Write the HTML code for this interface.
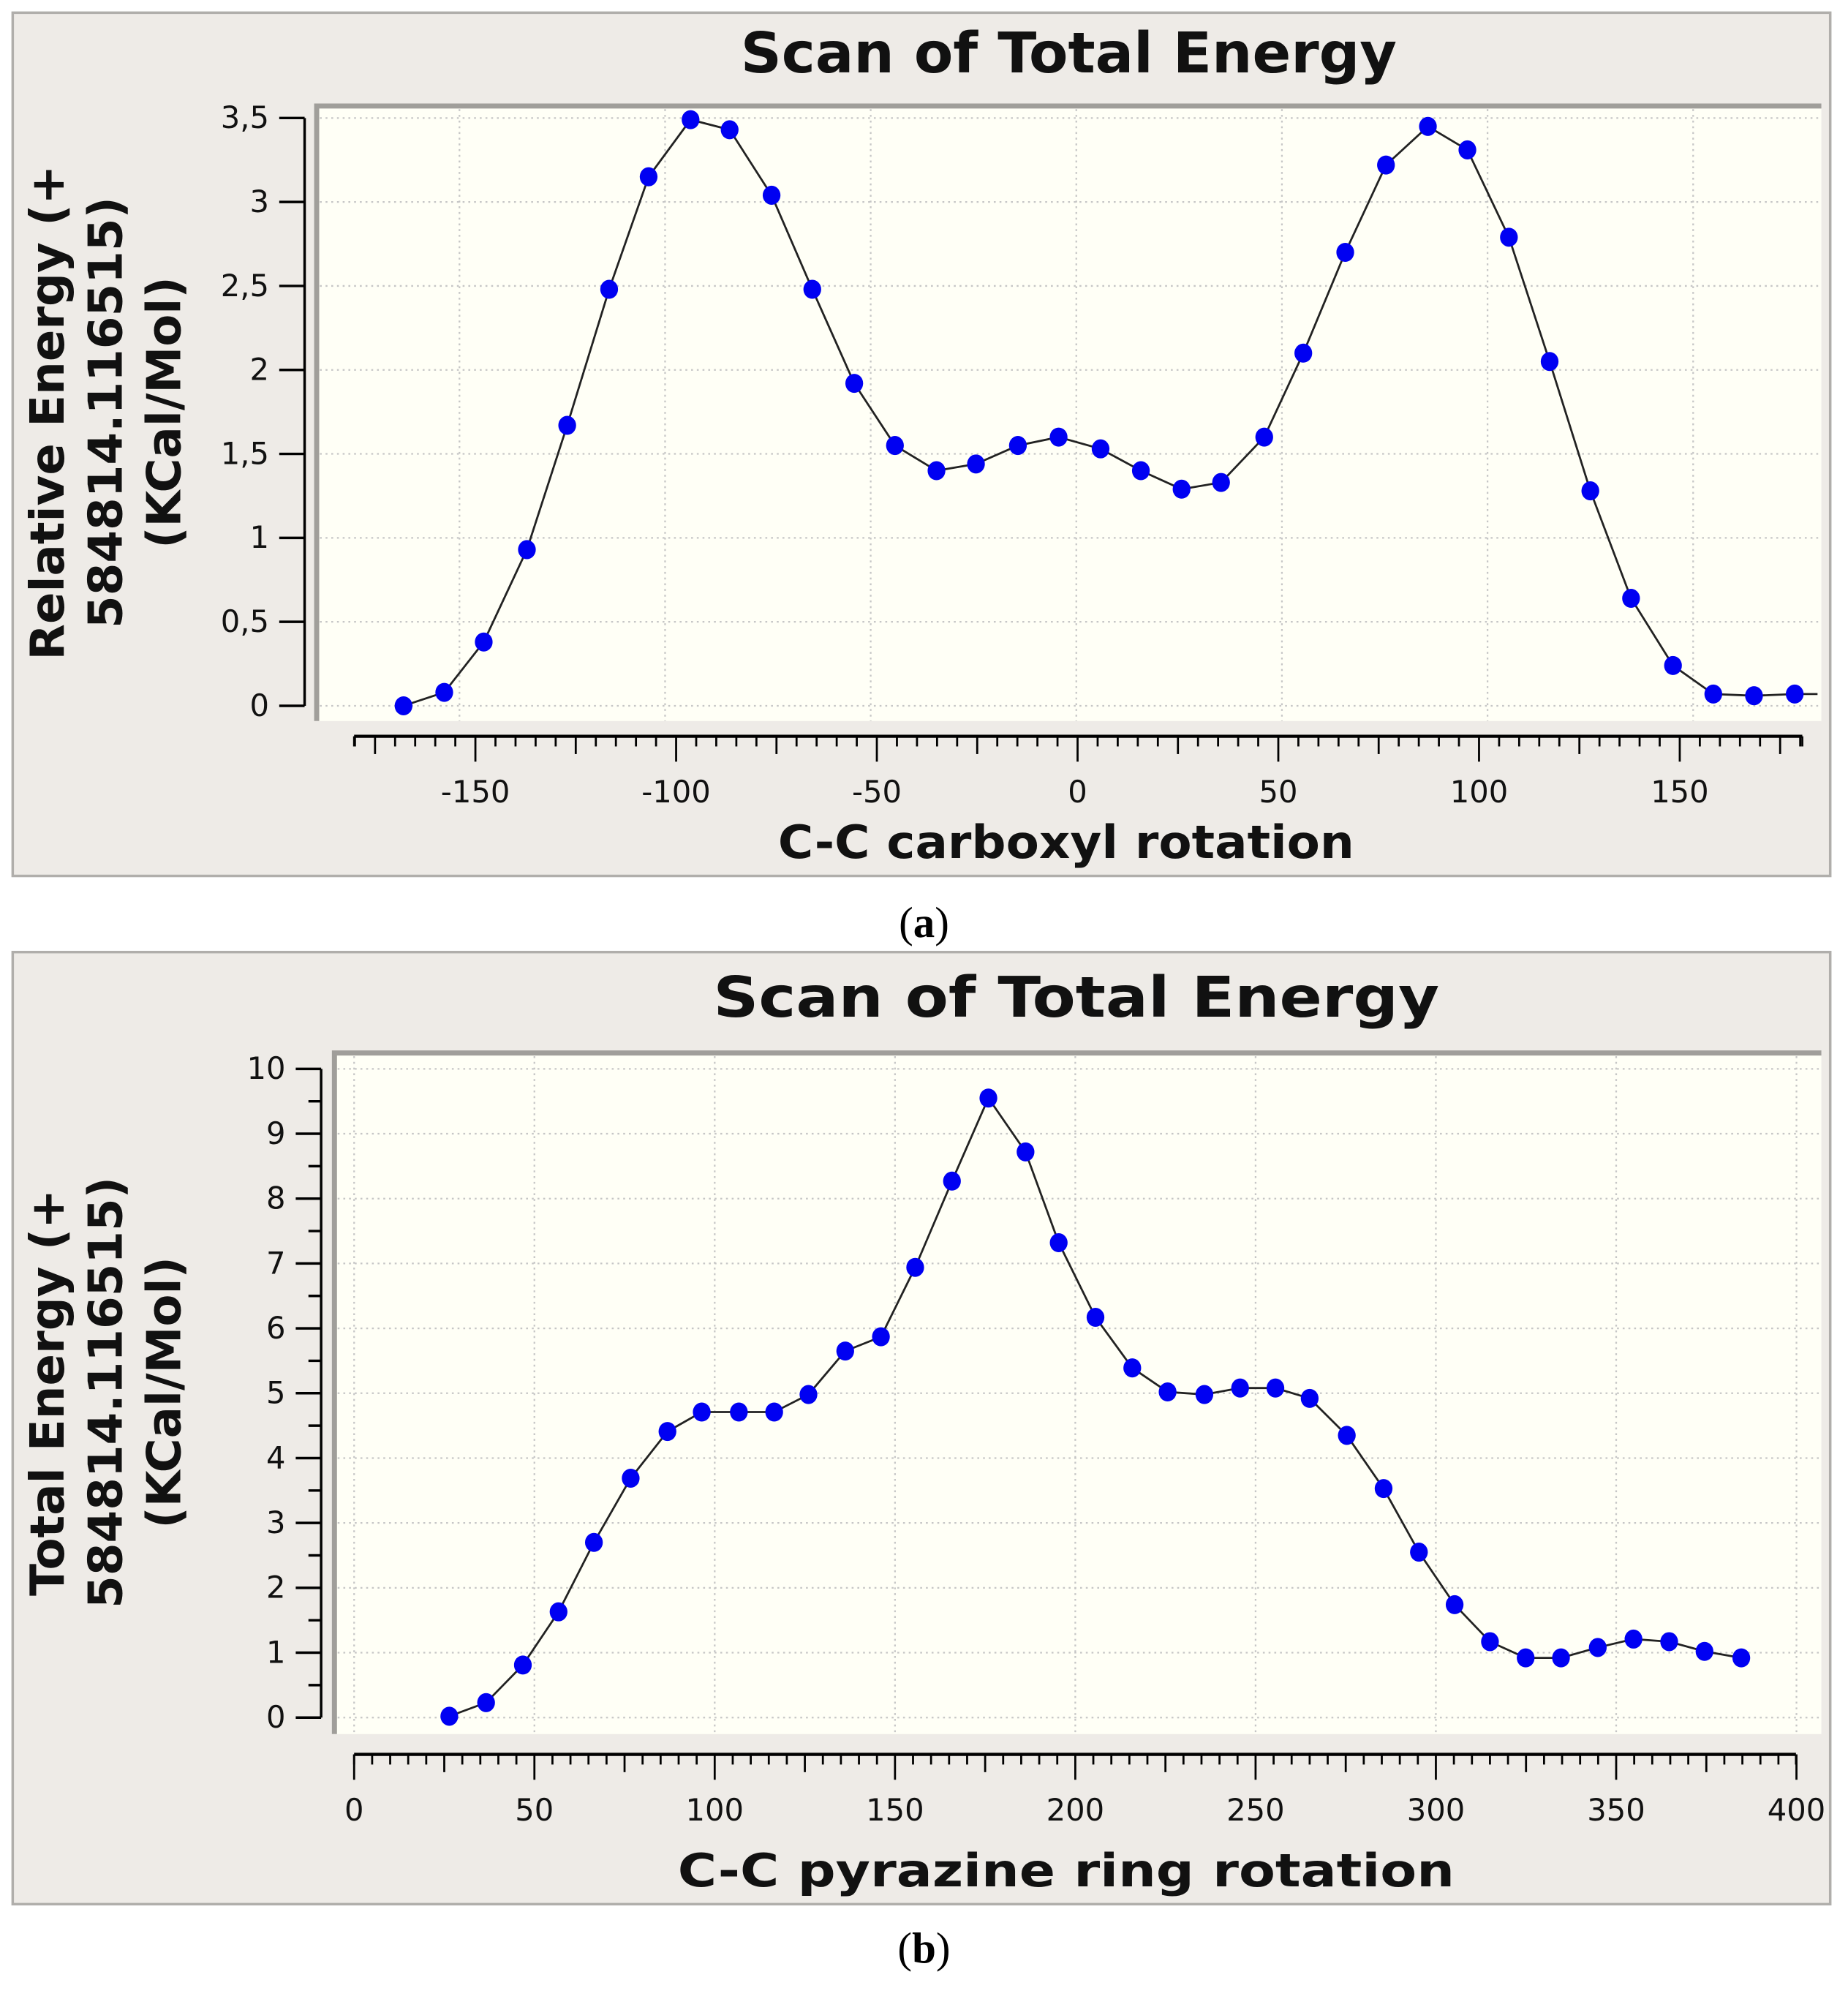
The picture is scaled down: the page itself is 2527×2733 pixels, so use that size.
<!DOCTYPE html>
<html><head><meta charset="utf-8"><style>
html,body{margin:0;padding:0;background:#fff;}
svg{display:block;}
</style></head><body>
<svg id="root" width="2527" height="2733" viewBox="0 0 1456 1574.7" xmlns="http://www.w3.org/2000/svg" font-family="'DejaVu Sans','Liberation Sans',sans-serif">
<g id="pa"></g>
<g id="pb"></g>
<text x="728" y="738" text-anchor="middle" font-family="'Liberation Serif',serif" font-size="34">(<tspan font-weight="bold">a</tspan>)</text>
<text x="728" y="1546" text-anchor="middle" font-family="'Liberation Serif',serif" font-size="34">(<tspan font-weight="bold">b</tspan>)</text>
</svg>
<script>
const aX=[-163.6,-153.7,-144.1,-133.6,-123.8,-113.6,-104,-93.8,-84.3,-74.1,-64.2,-54,-44.1,-34,-24.4,-14.2,-4.3,5.9,15.7,25.6,35.2,45.7,55.2,65.4,75.3,85.5,95.1,105.2,115.1,125,134.9,145.1,154.9,164.8,174.7];
const aY=[0,0.08,0.38,0.93,1.67,2.48,3.15,3.49,3.43,3.04,2.48,1.92,1.55,1.40,1.44,1.55,1.60,1.53,1.40,1.29,1.33,1.60,2.10,2.70,3.22,3.45,3.31,2.79,2.05,1.28,0.64,0.24,0.07,0.06,0.07];
const aYTicks=[0,0.5,1,1.5,2,2.5,3,3.5];
const aYLabels=["0","0,5","1","1,5","2","2,5","3","3,5"];
const aXTicks=[-150,-100,-50,0,50,100,150];
const bX=[26.4,36.6,46.8,56.7,66.5,76.7,86.9,96.4,106.7,116.5,126,136.2,146.1,155.6,165.8,175.9,186.2,195.4,205.6,215.8,225.6,235.8,245.7,255.5,265,275.3,285.5,295.3,305.2,315,324.9,334.7,344.9,354.8,364.7,374.5,384.7];
const bY=[0.02,0.23,0.81,1.63,2.70,3.69,4.41,4.71,4.71,4.71,4.98,5.65,5.87,6.94,8.27,9.55,8.72,7.32,6.17,5.39,5.02,4.98,5.08,5.08,4.92,4.35,3.53,2.55,1.74,1.17,0.92,0.92,1.08,1.21,1.17,1.02,0.92];
const bYTicks=[0,1,2,3,4,5,6,7,8,9,10];
const bYLabels=["0","1","2","3","4","5","6","7","8","9","10"];
const bXTicks=[0,50,100,150,200,250,300,350,400];

const NS="http://www.w3.org/2000/svg";
function mk(p,t,a){const e=document.createElementNS(NS,t);for(const k in a)e.setAttribute(k,a[k]);p.appendChild(e);return e;}

function panel(g,cfg){
  const sx=v=>cfg.x0px+v*cfg.xs, sy=v=>cfg.y0px-v*cfg.ys;
  const ax_=v=>cfg.ax0px+v*cfg.axs;
  let e=mk(g,'rect',{x:10,y:cfg.fy,width:1432,height:cfg.fh,fill:'#eeebe7',stroke:'#b0aeab','stroke-width':2});
  
  e=mk(g,'text',{x:cfg.tx,y:cfg.ty,'text-anchor':'middle','font-size':44,'font-weight':'bold',fill:'#111',textLength:cfg.tl,lengthAdjust:'spacingAndGlyphs'});
  e.textContent='Scan of Total Energy';
  e=mk(g,'rect',{x:cfg.pl,y:cfg.pt,width:1435-cfg.pl,height:cfg.pb-cfg.pt,fill:'#fffff6'});
  
  mk(g,'path',{d:`M${cfg.pl+1.5},${cfg.pb} V${cfg.pt+1.5} H1435`,fill:'none',stroke:'#a09e9a','stroke-width':4});
  cfg.yt.forEach(v=>{e=mk(g,'line',{x1:cfg.pl+4,x2:1433,y1:sy(v),y2:sy(v),stroke:'#c6c6c6','stroke-width':1.3,'stroke-dasharray':'1.5 3'});
    });
  cfg.xt.forEach(v=>{const x=sx(v);if(x>cfg.pl+3&&x<1434){e=mk(g,'line',{x1:x,x2:x,y1:cfg.pt+4,y2:cfg.pb,stroke:'#c6c6c6','stroke-width':1.3,'stroke-dasharray':'1.5 3'});
    }});
  e=mk(g,'line',{x1:cfg.ax,x2:cfg.ax,y1:sy(cfg.yt[cfg.yt.length-1]),y2:sy(cfg.yt[0]),stroke:'#000','stroke-width':2});
  
  cfg.yt.forEach((v,i)=>{mk(g,'line',{x1:cfg.ax-20,x2:cfg.ax,y1:sy(v),y2:sy(v),stroke:'#000','stroke-width':2});
    e=mk(g,'text',{x:cfg.ax-28,y:sy(v)+8,'text-anchor':'end','font-size':24,fill:'#111'});e.textContent=cfg.yl[i];
    
    if(cfg.ymin&&i<cfg.yt.length-1){const m=sy(v+(cfg.yt[1]-cfg.yt[0])/2);mk(g,'line',{x1:cfg.ax-10,x2:cfg.ax,y1:m,y2:m,stroke:'#000','stroke-width':2});}});
  const xa=cfg.xay;
  e=mk(g,'line',{x1:cfg.xa1,x2:cfg.xa2,y1:xa,y2:xa,stroke:'#000','stroke-width':2.5});
  
  for(let v=Math.ceil(cfg.xv1/5)*5;v<=cfg.xv2;v+=5){const x=ax_(v);let L=8;if(v%50===0)L=20;else if(v%25===0)L=14;
    mk(g,'line',{x1:x,x2:x,y1:xa,y2:xa+L,stroke:'#000','stroke-width':1.6});}
  mk(g,'line',{x1:cfg.xa1,x2:cfg.xa1,y1:xa,y2:xa+8,stroke:'#000','stroke-width':1.6});
  mk(g,'line',{x1:cfg.xa2,x2:cfg.xa2,y1:xa,y2:xa+8,stroke:'#000','stroke-width':1.6});
  cfg.xt.forEach(v=>{e=mk(g,'text',{x:ax_(v),y:xa+52,'text-anchor':'middle','font-size':24,fill:'#111'});e.textContent=String(v);
    });
  e=mk(g,'text',{x:cfg.xlx,y:cfg.xly,'text-anchor':'middle','font-size':36,'font-weight':'bold',fill:'#111',textLength:cfg.xll,lengthAdjust:'spacingAndGlyphs'});
  e.textContent=cfg.xlabel;
  const yg=mk(g,'g',{transform:`translate(${cfg.ylx},${cfg.yly}) rotate(-90)`});
  
  cfg.ylabel.forEach((s,i)=>{const t=mk(yg,'text',{x:0,y:i*46,'text-anchor':'middle','font-size':37,'font-weight':'bold',fill:'#111'});t.textContent=s;});
  const pts=cfg.xs_.map((v,i)=>sx(v)+','+sy(cfg.ys_[i]));
  let d='M'+pts.join(' L');
  if(cfg.ext) d+=` L1432,${sy(cfg.ys_[cfg.ys_.length-1])}`;
  e=mk(g,'path',{d:d,fill:'none',stroke:'#222','stroke-width':1.6});
  
  cfg.xs_.forEach((v,i)=>{const c=mk(g,'ellipse',{cx:sx(v),cy:sy(cfg.ys_[i]),rx:7,ry:7.5,fill:'#0000f2'});
    });
}

panel(document.getElementById('pa'),{fy:10,fh:680,tx:842,ty:57,tl:517,pl:248,pt:82,pb:568,
  x0px:848,xs:3.24,ax0px:849,axs:3.163,y0px:556,ys:132.3,yt:aYTicks,yl:aYLabels,xt:aXTicks,ax:240,ymin:false,
  xay:580,xa1:279,xa2:1420,xv1:-180,xv2:180,xlabel:'C-C carboxyl rotation',xlx:840,xly:676,xll:454,
  ylabel:['Relative Energy (+','584814.116515)','(KCal/Mol)'],ylx:50,yly:325,xs_:aX,ys_:aY,ext:true});
panel(document.getElementById('pb'),{fy:750,fh:750,tx:848,ty:801,tl:572,pl:262,pt:828,pb:1366,
  x0px:279,xs:2.841,ax0px:279,axs:2.841,y0px:1353,ys:51.1,yt:bYTicks,yl:bYLabels,xt:bXTicks,ax:253,ymin:true,
  xay:1382,xa1:279,xa2:1415,xv1:0,xv2:400,xlabel:'C-C pyrazine ring rotation',xlx:840,xly:1486,xll:612,
  ylabel:['Total Energy (+','584814.116515)','(KCal/Mol)'],ylx:50,yly:1097,xs_:bX,ys_:bY,ext:false});
</script>
</body></html>
